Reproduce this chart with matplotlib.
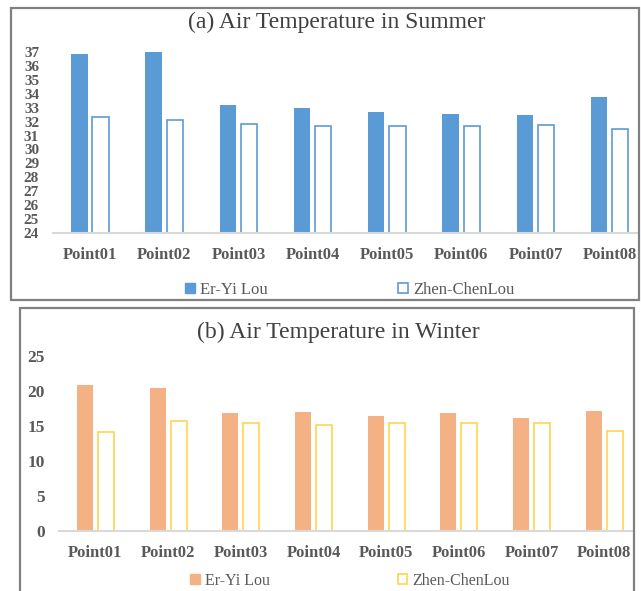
import matplotlib
matplotlib.use("Agg")
import matplotlib.pyplot as plt
import numpy as np
from matplotlib.patches import Patch, Rectangle

points = ["Point01", "Point02", "Point03", "Point04", "Point05", "Point06", "Point07", "Point08"]
summer_eryi = [36.85, 36.98, 33.2, 33.0, 32.7, 32.55, 32.45, 33.8]
summer_zhen = [32.3, 32.1, 31.85, 31.65, 31.7, 31.65, 31.75, 31.5]
winter_eryi = [20.8, 20.5, 16.8, 17.0, 16.4, 16.9, 16.2, 17.2]
winter_zhen = [14.1, 15.7, 15.4, 15.2, 15.4, 15.5, 15.4, 14.3]
series = ["Er-Yi Lou", "Zhen-ChenLou"]

plt.rcParams["font.family"] = ["Liberation Serif", "DejaVu Serif"]
W, H = 641, 591
fig = plt.figure(figsize=(W / 100, H / 100), dpi=100)

def px_axes(left, right, top, bottom):
    return fig.add_axes([left / W, 1 - bottom / H, (right - left) / W, (bottom - top) / H])

def style(ax):
    for s in ["top", "right", "left"]:
        ax.spines[s].set_visible(False)
    ax.spines["bottom"].set_color("#d9d9d9")
    ax.spines["bottom"].set_linewidth(1.5)
    ax.tick_params(length=0, colors="#595959")
    for lab in ax.get_xticklabels() + ax.get_yticklabels():
        lab.set_fontweight("bold")
    ax.set_facecolor("none")

x = np.arange(len(points))
width = 0.22

# (a) summer
blue = "#5b9bd5"
ax1 = px_axes(53, 638, 52, 233)
ax1.bar(x - 0.145, summer_eryi, width, color=blue)
ax1.bar(x + 0.14, summer_zhen, width, color="white", edgecolor=blue, linewidth=1.2)
ax1.set_ylim(24, 37)
ax1.set_xlim(-0.5, 7.38)
ax1.set_yticks(np.arange(24, 38, 1))
ax1.set_xticks(x, points, fontsize=12)
ax1.tick_params(axis="y", labelsize=11, pad=10)
ax1.tick_params(axis="x", pad=10)
style(ax1)
ax1.legend(handles=[Patch(facecolor=blue, edgecolor=blue),
                    Patch(facecolor="white", edgecolor=blue, linewidth=1.2)],
           labels=series, loc="center", bbox_to_anchor=(350 / W, 1 - 290 / H),
           bbox_transform=fig.transFigure, ncol=2, frameon=False, fontsize=12,
           handlelength=0.6, handleheight=0.6, handletextpad=0.3, columnspacing=7.8,
           labelcolor="#595959")
fig.text(337 / W, 1 - 22 / H, "(a) Air Temperature in Summer", ha="center", va="center",
         fontsize=17, color="#404040")

# (b) winter
orange = "#f4b183"
yellow = "#ffd34f"
ax2 = px_axes(59, 633, 356, 531)
ax2.bar(x - 0.145, winter_eryi, width, color=orange)
ax2.bar(x + 0.145, winter_zhen, width, color="white", edgecolor=yellow, linewidth=1.2)
ax2.set_ylim(0, 25)
ax2.set_xlim(-0.5, 7.395)
ax2.set_yticks(np.arange(0, 26, 5))
ax2.set_xticks(x, points, fontsize=12)
ax2.tick_params(axis="y", labelsize=12.5, pad=10)
ax2.tick_params(axis="x", pad=10)
style(ax2)
ax2.legend(handles=[Patch(facecolor=orange, edgecolor=orange),
                    Patch(facecolor="white", edgecolor=yellow, linewidth=1.2)],
           labels=series, loc="center", bbox_to_anchor=(350 / W, 1 - 581 / H),
           bbox_transform=fig.transFigure, ncol=2, frameon=False, fontsize=11.5,
           handlelength=0.6, handleheight=0.6, handletextpad=0.3, columnspacing=8.0,
           labelcolor="#595959", borderpad=0.2)
fig.text(338 / W, 1 - 332 / H, "(b) Air Temperature in Winter", ha="center", va="center",
         fontsize=17, color="#404040")

# panel frames
fig.patches.append(Rectangle((11 / W, 1 - 300 / H), 628 / W, 292 / H, transform=fig.transFigure,
                             fill=False, edgecolor="#808080", linewidth=1.6))
fig.patches.append(Rectangle((20 / W, 1 - 600 / H), 614 / W, 292 / H, transform=fig.transFigure,
                             fill=False, edgecolor="#808080", linewidth=1.6))

fig.savefig("out.png", dpi=100)
